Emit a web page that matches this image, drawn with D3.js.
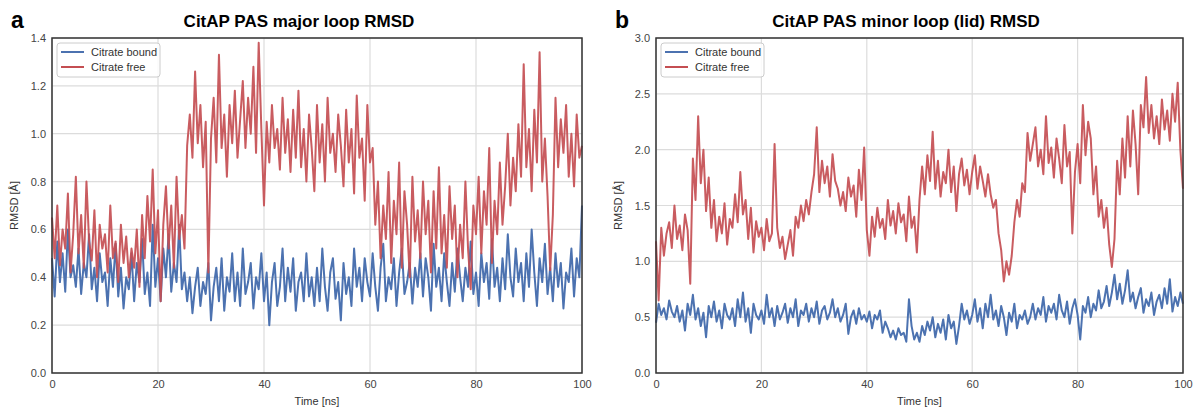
<!DOCTYPE html>
<html>
<head>
<meta charset="utf-8">
<script src="https://cdn.jsdelivr.net/npm/d3@7"></script>
<style>
    body { margin: 0; background: #fff; }
    svg { font-family: "Liberation Sans", Arial, sans-serif; }
</style>
</head>
<body>
<svg id="fig"></svg>
<script>
// sampling of the trajectories, ns
const timeStep = 0.5;
const seriesNames = ['Citrate bound', 'Citrate free'];

// panel a - major loop RMSD (A)
const boundA = [
    0.48, 0.32, 0.55, 0.38, 0.50, 0.34, 0.60, 0.40, 0.45, 0.36,
    0.52, 0.33, 0.46, 0.40, 0.58, 0.35, 0.44, 0.30, 0.50, 0.38,
    0.42, 0.28, 0.48, 0.36, 0.54, 0.32, 0.44, 0.27, 0.40, 0.35,
    0.50, 0.30, 0.46, 0.38, 0.56, 0.33, 0.42, 0.28, 0.62, 0.36,
    0.48, 0.30, 0.52, 0.40, 0.58, 0.34, 0.46, 0.38, 0.62, 0.35,
    0.42, 0.30, 0.40, 0.25, 0.36, 0.44, 0.28, 0.38, 0.33, 0.46,
    0.22, 0.36, 0.44, 0.30, 0.48, 0.26, 0.40, 0.34, 0.50, 0.30,
    0.42, 0.28, 0.52, 0.33, 0.38, 0.46, 0.27, 0.40, 0.35, 0.50,
    0.30, 0.42, 0.20, 0.38, 0.46, 0.28, 0.36, 0.52, 0.30, 0.44,
    0.34, 0.48, 0.26, 0.38, 0.42, 0.30, 0.50, 0.32, 0.40, 0.28,
    0.44, 0.30, 0.52, 0.36, 0.26, 0.42, 0.48, 0.31, 0.38, 0.22,
    0.46, 0.33, 0.40, 0.28, 0.52, 0.36, 0.44, 0.30, 0.48, 0.38,
    0.32, 0.50, 0.36, 0.26, 0.44, 0.54, 0.30, 0.40, 0.35, 0.48,
    0.28, 0.42, 0.52, 0.33, 0.38, 0.46, 0.29, 0.44, 0.36, 0.50,
    0.32, 0.48, 0.40, 0.26, 0.54, 0.36, 0.44, 0.30, 0.50, 0.38,
    0.28, 0.46, 0.34, 0.52, 0.40, 0.30, 0.44, 0.36, 0.55, 0.33,
    0.42, 0.28, 0.50, 0.38, 0.46, 0.31, 0.56, 0.36, 0.44, 0.30,
    0.48, 0.35, 0.58, 0.40, 0.32, 0.52, 0.38, 0.46, 0.30, 0.50,
    0.36, 0.60, 0.42, 0.28, 0.48, 0.38, 0.54, 0.33, 0.44, 0.30,
    0.50, 0.36, 0.46, 0.27, 0.42, 0.38, 0.52, 0.32, 0.48, 0.40,
    0.70
];
const freeA = [
    0.65, 0.48, 0.70, 0.45, 0.60, 0.52, 0.75, 0.42, 0.58, 0.82,
    0.50, 0.66, 0.44, 0.80, 0.55, 0.47, 0.68, 0.40, 0.62, 0.52,
    0.58, 0.42, 0.70, 0.48, 0.55, 0.38, 0.62, 0.46, 0.57, 0.40,
    0.52, 0.44, 0.60, 0.36, 0.66, 0.48, 0.74, 0.55, 0.85, 0.50,
    0.68, 0.30, 0.62, 0.78, 0.52, 0.70, 0.44, 0.82, 0.56, 0.66,
    0.52, 0.95, 1.08, 0.90, 1.26, 0.96, 1.12, 0.86, 1.05, 0.42,
    0.98, 1.15, 0.88, 1.33, 0.94, 1.08, 0.82, 1.12, 0.96, 1.18,
    0.90, 1.06, 1.22, 0.94, 1.15, 1.00, 1.28, 0.92, 1.38, 1.02,
    0.70, 1.05, 0.88, 1.12, 0.94, 1.02, 0.85, 1.15, 0.92, 1.06,
    0.84, 1.10, 0.90, 1.18, 0.86, 1.02, 0.80, 1.08, 0.94, 0.76,
    1.12, 0.88, 1.04, 0.80, 1.15, 0.92, 1.00, 0.84, 1.08, 0.95,
    0.78, 1.10, 0.88, 1.02, 0.75, 1.16, 0.90, 0.98, 0.72, 1.12,
    0.88, 0.94, 0.62, 0.80, 0.48, 0.70, 0.56, 0.84, 0.46, 0.72,
    0.58, 0.88, 0.44, 0.76, 0.62, 0.40, 0.82, 0.55, 0.68, 0.48,
    0.80, 0.58, 0.72, 0.42, 0.76, 0.52, 0.86, 0.50, 0.66, 0.44,
    0.78, 0.56, 0.70, 0.40, 0.62, 0.48, 0.80, 0.52, 0.35, 0.70,
    0.58, 0.82, 0.50, 0.76, 0.62, 0.94, 0.46, 0.72, 0.58, 0.88,
    0.62, 0.78, 1.00, 0.70, 0.90, 0.76, 1.04, 0.82, 1.29, 0.86,
    1.02, 0.76, 1.10, 0.88, 1.34, 0.80, 0.98, 0.74, 0.43, 0.66,
    1.15, 0.86, 1.06, 0.92, 1.12, 0.82, 1.00, 0.78, 1.08, 0.90,
    0.95
];

// panel b - minor loop (lid) RMSD (A)
const boundB = [
    0.45, 0.62, 0.52, 0.58, 0.48, 0.65, 0.55, 0.50, 0.60, 0.46,
    0.56, 0.38, 0.62, 0.52, 0.70, 0.48, 0.58, 0.42, 0.54, 0.32,
    0.60, 0.50, 0.64, 0.46, 0.56, 0.40, 0.62, 0.52, 0.48, 0.58,
    0.42, 0.66, 0.50, 0.72, 0.46, 0.58, 0.36, 0.62, 0.52, 0.48,
    0.56, 0.44, 0.70, 0.50, 0.58, 0.42, 0.60, 0.48, 0.54, 0.62,
    0.45, 0.58, 0.50, 0.66, 0.42, 0.56, 0.52, 0.62, 0.46, 0.58,
    0.50, 0.64, 0.44, 0.56, 0.60, 0.48, 0.54, 0.66, 0.50, 0.58,
    0.46, 0.52, 0.62, 0.35, 0.50, 0.56, 0.44, 0.58, 0.48, 0.52,
    0.46, 0.55, 0.40, 0.52, 0.48, 0.56, 0.36, 0.46, 0.40, 0.32,
    0.38, 0.30, 0.40, 0.34, 0.36, 0.28, 0.66, 0.42, 0.30, 0.36,
    0.28, 0.42, 0.34, 0.46, 0.38, 0.50, 0.32, 0.44, 0.36, 0.48,
    0.30, 0.52, 0.40, 0.46, 0.26, 0.42, 0.62, 0.48, 0.56, 0.44,
    0.52, 0.66, 0.46, 0.58, 0.40, 0.62, 0.50, 0.70, 0.48, 0.56,
    0.42, 0.60, 0.50, 0.34, 0.54, 0.46, 0.62, 0.40, 0.52, 0.48,
    0.56, 0.44, 0.50, 0.62, 0.48, 0.58, 0.52, 0.68, 0.46, 0.60,
    0.54, 0.62, 0.48, 0.70, 0.56, 0.50, 0.64, 0.44, 0.58, 0.66,
    0.52, 0.30, 0.60, 0.54, 0.68, 0.50, 0.62, 0.56, 0.74, 0.58,
    0.64, 0.78, 0.60, 0.72, 0.88, 0.66, 0.80, 0.62, 0.74, 0.92,
    0.64, 0.72, 0.58, 0.68, 0.76, 0.54, 0.66, 0.60, 0.72, 0.52,
    0.64, 0.70, 0.58, 0.76, 0.62, 0.84, 0.55, 0.68, 0.60, 0.72,
    0.62
];
const freeB = [
    1.18, 0.65, 1.30, 1.05, 1.25, 1.35, 1.12, 1.50, 1.20, 1.32,
    1.10, 1.42, 1.28, 0.80, 1.92, 1.55, 2.30, 1.70, 2.00, 1.45,
    1.75, 1.30, 1.55, 1.18, 1.40, 1.25, 1.52, 1.15, 1.38, 1.30,
    1.60, 1.35, 1.80, 1.42, 1.55, 1.20, 1.48, 1.08, 1.36, 1.22,
    1.30, 1.10, 1.38, 1.18, 1.25, 2.05, 1.30, 1.12, 1.22, 1.02,
    1.15, 1.28, 1.05, 1.40, 1.30, 1.50, 1.36, 1.55, 1.42, 1.62,
    1.78, 2.20, 1.62, 1.90, 1.70, 1.85, 1.58, 1.96, 1.72, 1.65,
    1.50, 1.62, 1.45, 1.75, 1.58, 1.68, 1.40, 1.82, 1.55, 2.02,
    1.28, 1.05, 1.40, 1.22, 1.48, 1.30, 1.38, 1.20, 1.55, 1.32,
    1.45, 1.25, 1.52, 1.35, 1.42, 1.18, 1.58, 1.30, 1.40, 1.08,
    1.55, 1.85, 1.60, 1.95, 1.72, 2.16, 1.65, 1.90, 1.58, 1.80,
    1.70, 2.00, 1.62, 1.85, 1.45, 1.78, 1.92, 1.68, 1.82, 1.60,
    1.80, 1.95, 1.65, 1.85, 1.72, 1.58, 1.78, 1.60, 1.48, 1.55,
    1.25, 1.10, 0.82, 1.00, 0.88, 1.05, 1.35, 1.55, 1.40, 1.70,
    1.62, 2.15, 1.90, 2.05, 2.20, 1.85, 2.00, 1.78, 2.30, 1.88,
    2.02, 1.75, 2.10, 1.92, 1.70, 2.22, 1.85, 1.98, 1.25, 1.80,
    2.05, 1.70, 2.40, 1.95, 2.25, 2.10, 1.60, 1.85, 1.40, 1.55,
    1.30, 1.48, 1.15, 0.95, 1.20, 1.90, 1.60, 2.10, 1.75, 2.30,
    1.85, 2.35, 2.05, 1.60, 2.40, 2.20, 2.65, 2.15, 2.40, 2.10,
    2.30, 2.05, 2.45, 2.18, 2.35, 2.08, 2.50, 2.25, 2.60, 2.00,
    1.65
];

const xTicks = [0, 20, 40, 60, 80, 100];
const yTicksA = [0.0, 0.2, 0.4, 0.6, 0.8, 1.0, 1.2, 1.4];
const yTicksB = [0.0, 0.5, 1.0, 1.5, 2.0, 2.5, 3.0];

class RmsdPanel {
    constructor(_config, _data) {
        this.config = {
            parentElement: _config.parentElement,
            left: _config.left,
            width: _config.width,
            top: 38,
            height: 335,
            letter: _config.letter,
            title: _config.title,
            titleX: _config.titleX,
            yMax: _config.yMax,
            yTicks: _config.yTicks,
            colors: ['#4c72b0', '#c44e52']
        }
        this.data = _data;
        this.initVis();
    }

    initVis() {
        let vis = this;
        vis.chart = d3.select(vis.config.parentElement).append('g')
            .attr('transform', `translate(${vis.config.left}, ${vis.config.top})`);

        vis.xScale = d3.scaleLinear().domain([0, 100]).range([0, vis.config.width]);
        vis.yScale = d3.scaleLinear().domain([0, vis.config.yMax]).range([vis.config.height, 0]);

        this.updateVis();
    }

    updateVis() {
        let vis = this;

        // grid lines first, so the traces sit on top
        vis.chart.append('g')
            .selectAll('line.gx')
            .data(xTicks)
            .enter().append('line')
            .attr('x1', d => vis.xScale(d)).attr('x2', d => vis.xScale(d))
            .attr('y1', 0).attr('y2', vis.config.height)
            .attr('stroke', '#dcdcdc').attr('stroke-width', 1.2);
        vis.chart.append('g')
            .selectAll('line.gy')
            .data(vis.config.yTicks)
            .enter().append('line')
            .attr('x1', 0).attr('x2', vis.config.width)
            .attr('y1', d => vis.yScale(d)).attr('y2', d => vis.yScale(d))
            .attr('stroke', '#dcdcdc').attr('stroke-width', 1.2);

        vis.xAxis = d3.axisBottom(vis.xScale).tickValues(xTicks).tickSize(0).tickPadding(7);
        vis.yAxis = d3.axisLeft(vis.yScale).tickValues(vis.config.yTicks).tickSize(0).tickPadding(6)
            .tickFormat(d3.format('.1f'));

        vis.chart.append('g')
            .attr('transform', `translate(0, ${vis.config.height})`)
            .call(vis.xAxis)
            .call(g => g.select('.domain').remove())
            .selectAll('text').attr('fill', '#444').style('font-size', '11px');
        vis.chart.append('g')
            .call(vis.yAxis)
            .call(g => g.select('.domain').remove())
            .selectAll('text').attr('fill', '#444').style('font-size', '11px');

        this.renderVis();
    }

    renderVis() {
        let vis = this;
        let line = d3.line()
            .x((d, i) => vis.xScale(i * timeStep))
            .y(d => vis.yScale(d));

        vis.data.forEach((s, i) => {
            vis.chart.append('path')
                .datum(s)
                .attr('fill', 'none')
                .attr('stroke', vis.config.colors[i])
                .attr('stroke-width', 2)
                .attr('stroke-linejoin', 'round')
                .style('opacity', i == 1 ? 0.92 : 1)
                .attr('d', line);
        });

        // frame
        vis.chart.append('rect')
            .attr('width', vis.config.width).attr('height', vis.config.height)
            .attr('fill', 'none').attr('stroke', '#333').attr('stroke-width', 1.5);

        // legend
        let lg = vis.chart.append('g').attr('transform', 'translate(5, 5)');
        lg.append('rect')
            .attr('width', 103).attr('height', 34).attr('rx', 3)
            .attr('fill', 'white').attr('fill-opacity', 0.85)
            .attr('stroke', '#ccc');
        seriesNames.forEach((name, i) => {
            lg.append('line')
                .attr('x1', 4).attr('x2', 27).attr('y1', 9 + i * 15).attr('y2', 9 + i * 15)
                .attr('stroke', vis.config.colors[i]).attr('stroke-width', 2);
            lg.append('text')
                .attr('x', 34).attr('y', 9 + i * 15)
                .attr('dy', '0.35em')
                .style('font-size', '11px').attr('fill', '#333')
                .text(name);
        });

        // labels
        let svg = d3.select(vis.config.parentElement);
        svg.append('text')
            .attr('x', vis.config.titleX).attr('y', 27)
            .attr('text-anchor', 'middle')
            .style('font-size', '17px').style('font-weight', 'bold')
            .text(vis.config.title);
        svg.append('text')
            .attr('x', vis.config.left - 41).attr('y', 28)
            .style('font-size', '23px').style('font-weight', 'bold')
            .text(vis.config.letter);
        svg.append('text')
            .attr('x', vis.config.left + vis.config.width / 2).attr('y', 405)
            .attr('text-anchor', 'middle')
            .style('font-size', '11px').attr('fill', '#333')
            .text('Time [ns]');
        svg.append('text')
            .attr('transform', `translate(${vis.config.left - 34}, ${vis.config.top + vis.config.height / 2}) rotate(-90)`)
            .attr('text-anchor', 'middle')
            .style('font-size', '11px').attr('fill', '#333')
            .text('RMSD [Å]');
    }
}

d3.select('#fig').attr('width', 1194).attr('height', 410);

new RmsdPanel({
    parentElement: '#fig', left: 52, width: 530, letter: 'a',
    title: 'CitAP PAS major loop RMSD', titleX: 299, yMax: 1.4, yTicks: yTicksA
}, [boundA, freeA]);

new RmsdPanel({
    parentElement: '#fig', left: 656, width: 527, letter: 'b',
    title: 'CitAP PAS minor loop (lid) RMSD', titleX: 906, yMax: 3.0, yTicks: yTicksB
}, [boundB, freeB]);
</script>
</body>
</html>
